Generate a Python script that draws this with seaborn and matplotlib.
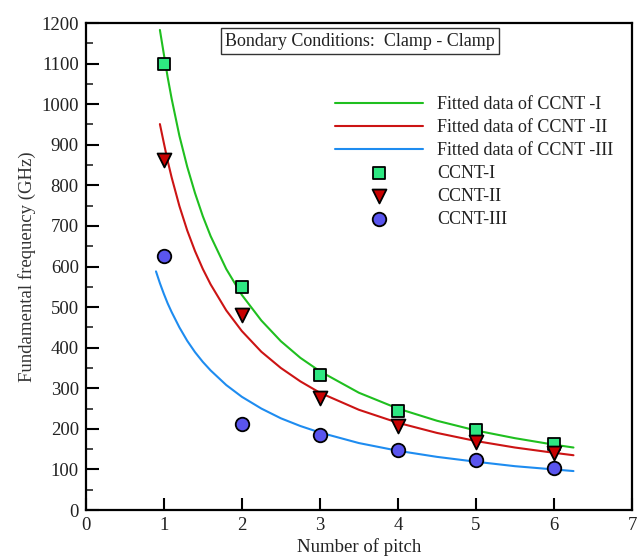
import seaborn as sns
import matplotlib.pyplot as plt
from matplotlib.ticker import MultipleLocator

# ---------------------------------------------------------------------------
# Data
# ---------------------------------------------------------------------------
pitch = [1, 2, 3, 4, 5, 6]
ccnt1 = [1100, 550, 332, 245, 197, 163]
ccnt2 = [862, 480, 277, 206, 168, 141]
ccnt3 = [625, 211, 185, 147, 123, 103]

# fitted curves
fit_x12 = [0.95, 1.0, 1.05, 1.1, 1.2, 1.3, 1.4, 1.5, 1.6, 1.8, 2.0, 2.25, 2.5, 2.75,
           3.0, 3.5, 4.0, 4.5, 5.0, 5.5, 6.0, 6.25]
fit1_y = [1183, 1124, 1066, 1014, 922, 846, 781, 724, 675, 594, 530, 467, 416, 375,
          342, 289, 250, 220, 196, 177, 161, 154]
fit2_y = [951, 905, 860, 820, 749, 689, 638, 594, 556, 492, 441, 390, 350, 317,
          289, 247, 215, 190, 170, 154, 141, 135]
fit_x3 = [0.9, 0.95, 1.0, 1.05, 1.1, 1.2, 1.3, 1.4, 1.5, 1.6, 1.8, 2.0, 2.25, 2.5, 2.75,
          3.0, 3.5, 4.0, 4.5, 5.0, 5.5, 6.0, 6.25]
fit3_y = [588, 559, 533, 509, 488, 450, 417, 389, 365, 344, 308, 279, 250, 226, 207,
          191, 165, 146, 131, 119, 108, 100, 96]

sns.set_style("ticks")
plt.rcParams['font.family'] = ['Liberation Serif', 'DejaVu Serif']

FS = 13.5
LEG_FS = 13

fig = plt.figure(figsize=(6.4, 5.56), dpi=100)
ax = fig.add_axes([0.134, 0.0827, 0.8535, 0.8759])

# ---------------------------------------------------------------------------
# Fitted lines
# ---------------------------------------------------------------------------
sns.lineplot(x=fit_x12, y=fit1_y, color='#1fbf1f', linewidth=1.5,
             label='Fitted data of CCNT -I', errorbar=None, ax=ax)
sns.lineplot(x=fit_x12, y=fit2_y, color='#cc1414', linewidth=1.5,
             label='Fitted data of CCNT -II', errorbar=None, ax=ax)
sns.lineplot(x=fit_x3, y=fit3_y, color='#1e8cf0', linewidth=1.5,
             label='Fitted data of CCNT -III', errorbar=None, ax=ax)

# ---------------------------------------------------------------------------
# Measured points
# ---------------------------------------------------------------------------
sns.scatterplot(x=pitch, y=ccnt1, marker='s', s=70, color='#2ee882',
                edgecolor='black', linewidth=1.3, label='CCNT-I', ax=ax, zorder=5)
sns.scatterplot(x=pitch, y=ccnt2, marker='v', s=100, color='#c80000',
                edgecolor='black', linewidth=1.3, label='CCNT-II', ax=ax, zorder=5)
sns.scatterplot(x=pitch, y=ccnt3, marker='o', s=95, color='#5a55ee',
                edgecolor='black', linewidth=1.3, label='CCNT-III', ax=ax, zorder=5)

# ---------------------------------------------------------------------------
# Axes styling
# ---------------------------------------------------------------------------
ax.set_xlim(0, 7)
ax.set_ylim(0, 1200)
ax.xaxis.set_major_locator(MultipleLocator(1))
ax.yaxis.set_major_locator(MultipleLocator(100))
ax.yaxis.set_minor_locator(MultipleLocator(50))
ax.tick_params(axis='both', which='major', direction='in', length=9, width=1.5,
               labelsize=FS, pad=5, colors='black', labelcolor='#222222')
ax.tick_params(axis='y', which='minor', direction='in', length=5, width=1.2)
ax.tick_params(top=False, right=False)
for side in ['left', 'right', 'top', 'bottom']:
    ax.spines[side].set_linewidth(1.6)
    ax.spines[side].set_color('black')

ax.set_xlabel('Number of pitch', fontsize=FS, labelpad=3, color='#222222')
ax.set_ylabel('Fundamental frequency (GHz)', fontsize=FS, labelpad=4, color='#333333')

ax.text(0.502, 0.963, 'Bondary Conditions:  Clamp - Clamp', transform=ax.transAxes,
        ha='center', va='center', fontsize=13, color='#222222',
        bbox=dict(boxstyle='square,pad=0.25', facecolor='white', edgecolor='#333333', linewidth=1))

handles, labels = ax.get_legend_handles_labels()
leg = ax.legend(handles, labels, loc='upper left', bbox_to_anchor=(0.509, 0.8435),
                bbox_transform=fig.transFigure, frameon=False, fontsize=LEG_FS,
                handlelength=4.9, handletextpad=0.78, labelspacing=0.33, borderpad=0)
for t in leg.get_texts():
    t.set_color('#222222')

fig.patch.set_facecolor('white')
fig.savefig('out.png', dpi=100)
